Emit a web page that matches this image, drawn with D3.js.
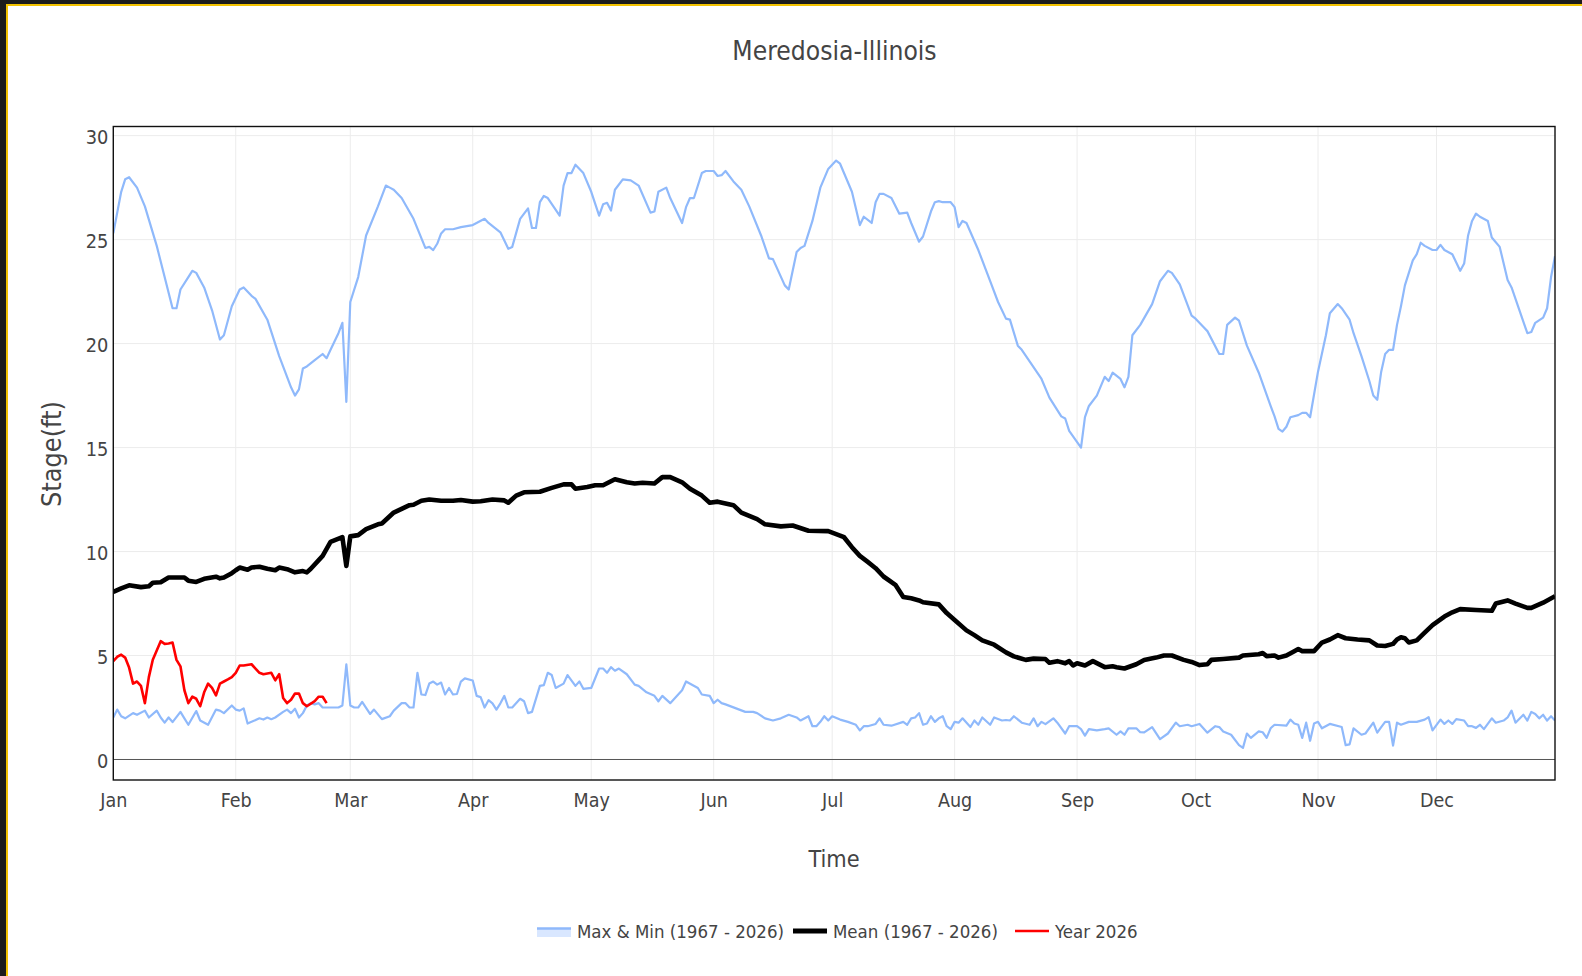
<!DOCTYPE html>
<html>
<head>
<meta charset="utf-8">
<script src="https://cdn.jsdelivr.net/npm/d3@7"></script>
<style>
  html, body { margin: 0; padding: 0; background: #1c1c1c; }
  svg { display: block; }
  text { font-family: 'DejaVu Sans Condensed', 'DejaVu Sans', sans-serif; font-stretch: condensed; }
</style>
</head>
<body>
<svg id="chart" width="1582" height="976"></svg>
<script>
// ---------- DATA (day of year in a leap year, 0 = Jan 1) ----------
const titleText = "Meredosia-Illinois";
const yTicks = [0, 5, 10, 15, 20, 25, 30];
const monthLabels = ["Jan","Feb","Mar","Apr","May","Jun","Jul","Aug","Sep","Oct","Nov","Dec"];
const seriesNames = ["Max & Min (1967 - 2026)", "Mean (1967 - 2026)", "Year 2026"];

const maxSeries = [[0,25.3],[2,27.3],[3,27.9],[4,28.0],[6,27.5],[8,26.6],[11,24.7],[15,21.7],[16,21.7],[17,22.6],[19,23.2],[20,23.5],[21,23.4],[23,22.7],[25,21.6],[27,20.2],[28,20.4],[30,21.8],[32,22.6],[33,22.7],[35,22.3],[36,22.15],[39,21.15],[42,19.4],[45,17.9],[46,17.5],[47,17.8],[48,18.8],[49,18.9],[51,19.2],[53,19.5],[54,19.3],[55,19.7],[57,20.5],[58,21.0],[59,17.2],[60,22.0],[62,23.2],[64,25.2],[67,26.6],[69,27.6],[70,27.5],[71,27.4],[73,27.0],[76,26.0],[79,24.6],[80,24.65],[81,24.5],[82,24.8],[83,25.3],[84,25.5],[86,25.5],[88,25.6],[91,25.7],[94,26.0],[95,25.8],[98,25.35],[100,24.56],[101,24.65],[103,26.0],[105,26.5],[106,25.56],[107,25.56],[108,26.8],[109,27.1],[110,27.0],[113,26.15],[114,27.6],[115,28.2],[116,28.2],[117,28.6],[119,28.2],[121,27.3],[123,26.15],[124,26.7],[125,26.77],[126,26.4],[127,27.4],[129,27.9],[131,27.85],[133,27.6],[136,26.3],[137,26.35],[138,27.3],[140,27.5],[141,27.0],[144,25.8],[145,26.56],[146,27.0],[147,27.0],[149,28.2],[150,28.3],[152,28.3],[153,28.06],[154,28.1],[155,28.3],[157,27.8],[159,27.4],[161,26.6],[164,25.2],[166,24.1],[167,24.06],[170,22.8],[171,22.6],[173,24.4],[174,24.6],[175,24.7],[177,25.9],[179,27.5],[181,28.4],[183,28.8],[184,28.65],[187,27.3],[189,25.7],[190,26.1],[192,25.8],[193,26.8],[194,27.2],[195,27.2],[197,27.0],[199,26.25],[201,26.3],[202,25.8],[204,24.9],[205,25.15],[207,26.35],[208,26.8],[209,26.85],[210,26.8],[212,26.8],[213,26.56],[214,25.6],[215,25.9],[216,25.8],[219,24.5],[222,23.0],[224,22.0],[226,21.2],[227,21.15],[229,19.9],[230,19.7],[235,18.3],[237,17.4],[240,16.5],[241,16.4],[242,15.8],[245,15.0],[246,16.46],[247,17.0],[249,17.5],[251,18.4],[252,18.2],[253,18.6],[255,18.3],[256,17.9],[257,18.4],[258,20.4],[260,20.9],[263,21.9],[265,23.0],[267,23.5],[268,23.4],[270,22.85],[273,21.35],[274,21.2],[276,20.8],[277,20.6],[280,19.5],[281,19.5],[282,20.9],[284,21.25],[285,21.1],[287,19.9],[290,18.6],[293,17.0],[294,16.5],[295,15.9],[296,15.77],[297,16.0],[298,16.46],[300,16.56],[301,16.67],[302,16.67],[303,16.46],[305,18.65],[307,20.4],[308,21.46],[310,21.9],[311,21.7],[313,21.15],[314,20.5],[316,19.4],[318,18.2],[319,17.5],[320,17.3],[321,18.65],[322,19.5],[323,19.7],[324,19.7],[325,20.9],[326,21.8],[327,22.8],[329,24.0],[330,24.3],[331,24.85],[332,24.7],[334,24.5],[335,24.5],[336,24.75],[337,24.5],[339,24.3],[341,23.5],[342,23.85],[343,25.2],[344,25.9],[345,26.25],[346,26.1],[348,25.9],[349,25.1],[351,24.65],[353,23.06],[354,22.7],[358,20.5],[359,20.56],[360,21.0],[362,21.25],[363,21.7],[364,23.2],[365,24.2]];

const minSeries = [[0,2.02],[1,2.4],[2,2.08],[3,1.98],[5,2.23],[6,2.15],[8,2.35],[9,2.02],[11,2.35],[12,2.02],[13,1.77],[14,2.02],[15,1.8],[17,2.29],[18,1.98],[19,1.67],[21,2.33],[22,1.875],[24,1.67],[26,2.4],[27,2.35],[28,2.23],[30,2.6],[31,2.4],[32,2.35],[33,2.46],[34,1.73],[35,1.81],[37,1.98],[38,1.92],[39,2.02],[40,1.94],[41,2.02],[43,2.29],[44,2.4],[45,2.23],[46,2.44],[47,2.02],[48,2.23],[49,2.6],[50,2.71],[51,2.65],[52,2.71],[53,2.5],[54,2.5],[57,2.5],[58,2.6],[59,4.58],[60,2.6],[61,2.5],[62,2.5],[63,2.77],[65,2.19],[66,2.4],[68,1.94],[70,2.08],[71,2.35],[73,2.71],[74,2.71],[75,2.5],[76,2.5],[77,4.17],[78,3.125],[79,3.1],[80,3.65],[81,3.75],[82,3.6],[83,3.7],[84,3.125],[85,3.44],[86,3.125],[87,3.15],[88,3.75],[89,3.9],[91,3.8],[92,3.06],[93,3.0],[94,2.5],[95,2.85],[96,2.7],[97,2.4],[98,2.7],[99,3.06],[100,2.5],[101,2.5],[103,2.92],[104,2.8],[105,2.23],[106,2.29],[108,3.54],[109,3.58],[110,4.17],[111,4.06],[112,3.44],[114,3.65],[115,4.06],[117,3.54],[118,3.75],[119,3.4],[121,3.44],[123,4.375],[124,4.375],[125,4.17],[126,4.44],[127,4.27],[128,4.375],[130,4.1],[132,3.6],[133,3.54],[135,3.23],[137,3.06],[138,2.8],[139,3.06],[141,2.71],[144,3.33],[145,3.75],[148,3.44],[149,3.125],[151,3.06],[152,2.71],[153,2.875],[154,2.71],[155,2.65],[160,2.29],[162,2.29],[163,2.23],[165,1.98],[167,1.875],[169,1.98],[171,2.15],[173,2.02],[174,1.875],[176,2.08],[177,1.6],[178,1.6],[179,1.81],[180,2.08],[181,1.875],[182,2.08],[184,1.92],[186,1.81],[188,1.67],[189,1.4],[190,1.6],[191,1.6],[193,1.71],[194,1.98],[195,1.67],[197,1.625],[200,1.81],[201,1.67],[202,1.98],[203,2.02],[204,2.23],[205,1.67],[206,1.73],[207,2.08],[208,1.81],[209,1.98],[210,2.08],[211,1.6],[212,1.46],[213,1.81],[214,1.77],[215,1.98],[217,1.56],[218,1.875],[219,1.67],[220,2.02],[222,1.67],[223,2.02],[225,1.875],[226,1.9],[227,1.875],[228,2.08],[230,1.77],[232,1.67],[233,1.98],[234,1.6],[235,1.81],[236,1.7],[238,1.98],[239,1.77],[241,1.25],[242,1.6],[244,1.6],[245,1.46],[246,1.15],[247,1.46],[249,1.4],[251,1.46],[252,1.5],[254,1.19],[255,1.35],[256,1.19],[257,1.5],[259,1.5],[260,1.31],[261,1.3],[263,1.56],[265,0.98],[267,1.25],[269,1.77],[270,1.6],[272,1.67],[273,1.6],[275,1.71],[277,1.29],[279,1.6],[280,1.56],[281,1.35],[283,1.19],[285,0.69],[286,0.56],[287,1.25],[288,1.04],[290,1.35],[291,1.31],[292,1.04],[293,1.5],[294,1.67],[297,1.625],[298,1.92],[299,1.73],[300,1.67],[301,1.04],[302,1.77],[303,0.9],[304,1.73],[305,1.81],[306,1.5],[308,1.71],[311,1.56],[312,0.69],[313,0.73],[314,1.5],[316,1.19],[317,1.25],[319,1.77],[320,1.29],[321,1.56],[322,1.81],[323,1.81],[324,0.67],[325,1.77],[326,1.67],[328,1.81],[330,1.81],[332,1.92],[333,2.04],[334,1.4],[336,1.92],[337,1.71],[338,1.875],[339,1.71],[340,1.94],[342,1.875],[343,1.6],[344,1.6],[345,1.52],[346,1.67],[347,1.46],[349,1.98],[350,1.77],[352,1.875],[353,2.02],[354,2.35],[355,1.77],[357,2.15],[358,1.875],[359,2.29],[360,2.19],[361,1.98],[362,2.15],[363,1.875],[364,2.08],[365,1.875]];

const meanSeries = [[0,8.06],[2,8.23],[4,8.375],[7,8.29],[9,8.33],[10,8.5],[12,8.52],[14,8.75],[16,8.75],[18,8.75],[19,8.6],[21,8.54],[23,8.69],[26,8.79],[27,8.71],[28,8.75],[30,8.96],[31,9.1],[32,9.23],[34,9.125],[35,9.23],[37,9.27],[39,9.17],[41,9.1],[42,9.23],[44,9.15],[46,9.0],[48,9.06],[49,9.0],[50,9.17],[53,9.79],[55,10.46],[58,10.69],[59,9.31],[60,10.73],[62,10.79],[64,11.08],[67,11.31],[68,11.35],[71,11.875],[75,12.23],[76,12.25],[78,12.44],[80,12.5],[83,12.44],[86,12.44],[88,12.48],[91,12.4],[93,12.42],[96,12.5],[99,12.46],[100,12.35],[102,12.69],[104,12.85],[108,12.875],[111,13.06],[114,13.23],[116,13.23],[117,13.02],[120,13.1],[122,13.19],[124,13.19],[127,13.48],[130,13.33],[132,13.27],[134,13.31],[137,13.27],[139,13.58],[141,13.58],[144,13.33],[146,13.02],[149,12.69],[151,12.35],[153,12.4],[157,12.23],[159,11.875],[163,11.56],[165,11.31],[169,11.21],[172,11.25],[176,11.0],[181,10.98],[184,10.77],[185,10.69],[187,10.21],[189,9.79],[191,9.5],[193,9.2],[195,8.8],[198,8.4],[200,7.81],[202,7.75],[204,7.65],[205,7.56],[209,7.46],[211,7.04],[213,6.71],[216,6.21],[218,5.98],[220,5.73],[223,5.52],[226,5.15],[228,4.96],[231,4.79],[233,4.85],[236,4.83],[237,4.65],[239,4.73],[241,4.625],[242,4.73],[243,4.52],[244,4.625],[246,4.52],[248,4.73],[251,4.44],[253,4.48],[254,4.44],[256,4.375],[259,4.58],[261,4.79],[264,4.9],[266,5.0],[268,5.0],[271,4.79],[273,4.69],[275,4.54],[277,4.58],[278,4.79],[281,4.83],[285,4.9],[286,5.0],[290,5.06],[291,5.12],[292,4.97],[294,5.0],[295,4.9],[297,5.0],[299,5.21],[300,5.31],[301,5.21],[304,5.21],[306,5.625],[308,5.77],[310,5.98],[312,5.83],[315,5.77],[318,5.73],[320,5.48],[322,5.46],[324,5.56],[325,5.77],[326,5.875],[327,5.83],[328,5.625],[330,5.73],[332,6.1],[334,6.46],[337,6.875],[339,7.08],[341,7.23],[345,7.19],[349,7.15],[350,7.5],[353,7.65],[355,7.5],[358,7.29],[359,7.29],[362,7.54],[365,7.85]];

const year2026Series = [[0,4.73],[1,4.94],[2,5.04],[3,4.9],[4,4.42],[5,3.65],[6,3.75],[7,3.54],[8,2.71],[9,3.96],[10,4.8],[12,5.69],[13,5.56],[14,5.58],[15,5.625],[16,4.79],[17,4.48],[18,3.33],[19,2.71],[20,3.02],[21,2.92],[22,2.56],[23,3.23],[24,3.65],[25,3.44],[26,3.08],[27,3.65],[28,3.75],[29,3.85],[30,3.96],[31,4.17],[32,4.52],[33,4.52],[35,4.58],[36,4.375],[37,4.17],[38,4.1],[40,4.17],[41,3.81],[42,4.1],[43,2.96],[44,2.71],[45,2.875],[46,3.17],[47,3.17],[48,2.71],[49,2.56],[51,2.81],[52,3.02],[53,3.02],[54,2.71]];

// ---------- LAYOUT ----------
const W = 1582, H = 976;
const plot = { left: 113.3, right: 1555, top: 126.5, bottom: 780 };
const FONT = "'DejaVu Sans Condensed', 'DejaVu Sans', sans-serif";
const textColor = "#444";
const rangeColor = "#8fb9fb";

const svg = d3.select("#chart");

// frame: dark outer, yellow rule, white card
svg.append("rect").attr("x", 0).attr("y", 0).attr("width", W).attr("height", H).attr("fill", "#1c1c1c");
svg.append("rect").attr("x", 6).attr("y", 4).attr("width", W - 6).attr("height", H - 4).attr("fill", "#f2c200");
svg.append("rect").attr("x", 8).attr("y", 6).attr("width", W - 8).attr("height", H - 6).attr("fill", "#ffffff");

const baseDate = new Date(2024, 0, 1);
const toDate = d => d3.timeDay.offset(baseDate, d);

const x = d3.scaleTime()
  .domain([baseDate, new Date(2024, 11, 31)])
  .range([plot.left, plot.right]);
const y = d3.scaleLinear()
  .domain([-0.986, 30.44])
  .range([plot.bottom, plot.top]);

const monthDates = monthLabels.map((m, i) => new Date(2024, i, 1));

// grid
const grid = svg.append("g");
grid.selectAll("line.v").data(monthDates).enter().append("line")
  .attr("x1", d => x(d)).attr("x2", d => x(d))
  .attr("y1", plot.top).attr("y2", plot.bottom)
  .attr("stroke", "#ececec").attr("stroke-width", 1);
grid.selectAll("line.h").data(yTicks.filter(v => v !== 0)).enter().append("line")
  .attr("x1", plot.left).attr("x2", plot.right)
  .attr("y1", d => y(d)).attr("y2", d => y(d))
  .attr("stroke", "#ececec").attr("stroke-width", 1);
// zero line
svg.append("line")
  .attr("x1", plot.left).attr("x2", plot.right)
  .attr("y1", y(0)).attr("y2", y(0))
  .attr("stroke", "#555").attr("stroke-width", 1);

// clip
svg.append("defs").append("clipPath").attr("id", "clip")
  .append("rect").attr("x", plot.left).attr("y", plot.top)
  .attr("width", plot.right - plot.left).attr("height", plot.bottom - plot.top);

const line = d3.line().x(d => x(toDate(d[0]))).y(d => y(d[1])).curve(d3.curveLinear);
const lines = svg.append("g").attr("clip-path", "url(#clip)");

lines.append("path").datum(maxSeries).attr("d", line)
  .attr("fill", "none").attr("stroke", rangeColor).attr("stroke-width", 2.2).attr("stroke-linejoin", "round");
lines.append("path").datum(minSeries).attr("d", line)
  .attr("fill", "none").attr("stroke", rangeColor).attr("stroke-width", 2.2).attr("stroke-linejoin", "round");
lines.append("path").datum(meanSeries).attr("d", line)
  .attr("fill", "none").attr("stroke", "#000").attr("stroke-width", 4.6).attr("stroke-linejoin", "round");
lines.append("path").datum(year2026Series).attr("d", line)
  .attr("fill", "none").attr("stroke", "#ff0000").attr("stroke-width", 2.6).attr("stroke-linejoin", "round");

// border
svg.append("rect")
  .attr("x", plot.left).attr("y", plot.top)
  .attr("width", plot.right - plot.left).attr("height", plot.bottom - plot.top)
  .attr("fill", "none").attr("stroke", "#111").attr("stroke-width", 1.4);

// axes
const xAxis = d3.axisBottom(x).tickValues(monthDates)
  .tickFormat((d, i) => monthLabels[i]).tickSize(0).tickPadding(13);
const gx = svg.append("g").attr("transform", `translate(0,${plot.bottom})`).call(xAxis);
gx.select(".domain").remove();
gx.selectAll("text").attr("font-family", FONT).attr("font-size", 19.5).attr("fill", textColor);

const yAxis = d3.axisLeft(y).tickValues(yTicks).tickSize(0).tickPadding(5);
const gy = svg.append("g").attr("transform", `translate(${plot.left},0)`).call(yAxis);
gy.select(".domain").remove();
gy.selectAll("text").attr("font-family", FONT).attr("font-size", 19.8).attr("fill", textColor).attr("dy", "0.4em");

// titles
svg.append("text").attr("x", 834.5).attr("y", 60).attr("text-anchor", "middle")
  .attr("font-family", FONT).attr("font-size", 26.2).attr("fill", textColor).text(titleText);
svg.append("text").attr("x", 834).attr("y", 867).attr("text-anchor", "middle")
  .attr("font-family", FONT).attr("font-size", 23.3).attr("fill", textColor).text("Time");
svg.append("text").attr("transform", "translate(61,454) rotate(-90)").attr("text-anchor", "middle")
  .attr("font-family", FONT).attr("font-size", 26.8).attr("fill", textColor).text("Stage(ft)");

// legend
const legY = 931;
const leg = svg.append("g");
// Max & Min swatch
leg.append("rect").attr("x", 537).attr("y", legY - 3).attr("width", 34).attr("height", 9).attr("fill", "#d9e7ff");
leg.append("line").attr("x1", 537).attr("x2", 571).attr("y1", legY - 2.5).attr("y2", legY - 2.5)
  .attr("stroke", rangeColor).attr("stroke-width", 2.5);
leg.append("text").attr("x", 577).attr("y", legY + 7).attr("font-family", FONT).attr("font-size", 18.5)
  .attr("fill", textColor).text(seriesNames[0]);
// Mean swatch
leg.append("line").attr("x1", 793).attr("x2", 827).attr("y1", legY).attr("y2", legY)
  .attr("stroke", "#000").attr("stroke-width", 5);
leg.append("text").attr("x", 833).attr("y", legY + 7).attr("font-family", FONT).attr("font-size", 18.5)
  .attr("fill", textColor).text(seriesNames[1]);
// Year swatch
leg.append("line").attr("x1", 1015).attr("x2", 1049).attr("y1", legY).attr("y2", legY)
  .attr("stroke", "#ff0000").attr("stroke-width", 2.6);
leg.append("text").attr("x", 1055).attr("y", legY + 7).attr("font-family", FONT).attr("font-size", 18.5)
  .attr("fill", textColor).text(seriesNames[2]);
</script>
</body>
</html>
